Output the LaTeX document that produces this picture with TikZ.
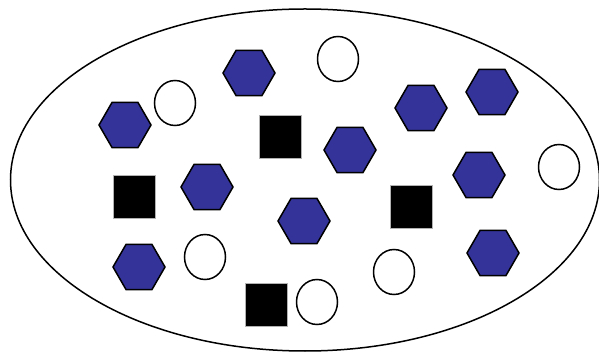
\documentclass[tikz,border=0pt]{standalone}
\usepackage{xcolor}
\definecolor{hexblue}{RGB}{51,51,153}
\usepackage{tikz}
\usetikzlibrary{shapes.geometric}

\begin{document}
\begin{tikzpicture}[
    x=1pt, y=-1pt,
    hex/.style={
        regular polygon, regular polygon sides=6,
        draw, line width=1.5pt, fill=hexblue,
        minimum size=52pt, inner sep=0pt
    },
    ring/.style={
        ellipse, draw, line width=1.5pt, fill=white,
        minimum width=41pt, minimum height=45pt, inner sep=0pt
    },
    blk/.style={
        rectangle, draw=gray!60, fill=black,
        minimum width=42pt, minimum height=43pt, inner sep=0pt
    }
]
    \useasboundingbox (0,0) rectangle (599,352);
    \node[ellipse, draw, line width=1.5pt, minimum width=589pt,
          minimum height=342pt, inner sep=0pt] (set) at (305,180) {};

    % hexagons
    \node[hex] (h1)  at (125,125) {};
    \node[hex] (h2)  at (249,73)  {};
    \node[hex] (h3)  at (421,108) {};
    \node[hex] (h4)  at (492,92)  {};
    \node[hex] (h5)  at (350,150) {};
    \node[hex] (h6)  at (479,175) {};
    \node[hex] (h7)  at (207,187) {};
    \node[hex] (h8)  at (139,267) {};
    \node[hex] (h9)  at (304,221) {};
    \node[hex] (h10) at (493,253) {};

    % circles
    \node[ring] (c1) at (175,103) {};
    \node[ring] (c2) at (338,59)  {};
    \node[ring] (c3) at (559,167) {};
    \node[ring] (c4) at (205,257) {};
    \node[ring] (c5) at (394,272) {};
    \node[ring] (c6) at (317,302) {};

    % squares
    \node[blk] (s1) at (280,137) {};
    \node[blk] (s2) at (134,197) {};
    \node[blk] (s3) at (266,305) {};
    \node[blk] (s4) at (411,207) {};
\end{tikzpicture}
\end{document}
